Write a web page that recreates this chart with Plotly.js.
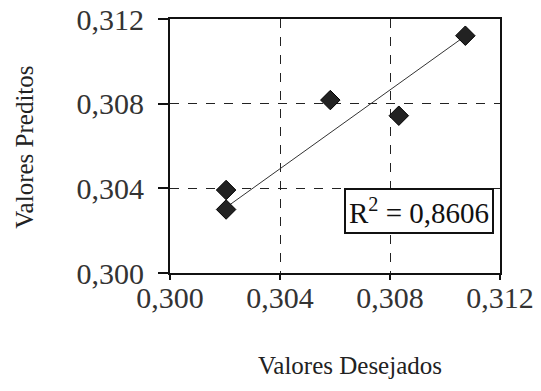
<!DOCTYPE html>
<html>
<head>
<meta charset="utf-8">
<script src="https://cdn.plot.ly/plotly-3.0.1.min.js"></script>
<style>html,body{margin:0;padding:0;background:#fff;}#chart{width:541px;height:391px;}</style>
</head>
<body>
<div id="chart"></div>
<script>
// Data
const desejados = [0.30204, 0.30204, 0.30583, 0.30832, 0.31074];
const preditos  = [0.30392, 0.30300, 0.30817, 0.30743, 0.31121];
const trendX = [0.30204, 0.31074];
const trendY = [0.30310, 0.31120];
const tickVals = [0.300, 0.304, 0.308, 0.312];
const tickText = ["0,300", "0,304", "0,308", "0,312"];
const r2Label = "R<sup>2</sup> = 0,8606";
const xTitle = "Valores Desejados";
const yTitle = "Valores Preditos";

const serif = "Liberation Serif";

const traces = [
  {
    x: trendX, y: trendY, type: "scatter", mode: "lines",
    line: {color: "#333", width: 1}, hoverinfo: "skip", showlegend: false
  },
  {
    x: desejados, y: preditos, type: "scatter", mode: "markers",
    marker: {symbol: "diamond", size: 15, color: "#222", line: {color: "#000", width: 1}},
    showlegend: false
  }
];

const axisCommon = {
  range: [0.300, 0.312],
  tickvals: tickVals,
  ticktext: tickText,
  showline: true, mirror: true, linecolor: "#111", linewidth: 2,
  ticks: "outside", tickcolor: "#111", tickwidth: 2,
  showgrid: true, gridcolor: "#222", gridwidth: 1, griddash: "dash",
  zeroline: false,
  tickfont: {family: serif, size: 30, color: "#333"}
};

const titleFont = {family: serif, size: 25, color: "#222"};

const layout = {
  width: 541, height: 391,
  margin: {l: 170, r: 41, t: 19, b: 118},
  paper_bgcolor: "#fff", plot_bgcolor: "#fff",
  separators: ",.",
  font: {family: serif},
  xaxis: Object.assign({}, axisCommon, {ticklen: 5, ticklabelstandoff: -8}),
  yaxis: Object.assign({}, axisCommon, {ticklen: 10, ticklabelstandoff: 8}),
  annotations: [
    {
      x: 0.30904, y: 0.30291, xref: "x", yref: "y",
      text: r2Label, showarrow: false,
      font: {family: serif, size: 29, color: "#111"},
      bgcolor: "#fff", bordercolor: "#111", borderwidth: 2, borderpad: 3
    },
    {
      x: 0.545, y: -0.366, xref: "paper", yref: "paper",
      xanchor: "center", yanchor: "middle",
      text: xTitle, showarrow: false, font: titleFont
    },
    {
      x: -0.442, y: 0.494, xref: "paper", yref: "paper",
      xanchor: "center", yanchor: "middle", textangle: -90,
      text: yTitle, showarrow: false, font: titleFont
    }
  ]
};

Plotly.newPlot("chart", traces, layout, {displayModeBar: false, staticPlot: true});
</script>
</body>
</html>
